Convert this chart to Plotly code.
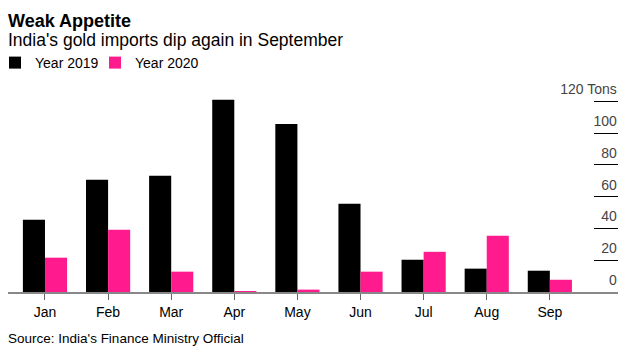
import plotly.graph_objects as go

months = ["Jan", "Feb", "Mar", "Apr", "May", "Jun", "Jul", "Aug", "Sep"]
year_2019 = [45.5, 70.6, 73.1, 121.0, 105.8, 55.5, 20.3, 14.7, 13.4]
year_2020 = [21.6, 39.2, 12.8, 0.4, 1.5, 12.8, 25.3, 35.4, 7.7]
y_tickvals = [0, 20, 40, 60, 80, 100, 120]
y_ticktext = ["0", "20", "40", "60", "80", "100", "120 Tons"]

FONT = "Liberation Sans, Arial, sans-serif"
W, H = 635, 357
L, R, T, B = 8, 17, 75, 65
PW, PH = W - L - R, H - T - B
Y_MAX = PH / 1.589


def px(x):
    return (x - L) / PW


def py(y):
    return (H - B - y) / PH


fig = go.Figure()
fig.add_trace(go.Bar(x=months, y=year_2019, name="Year 2019", legend="legend",
                     marker=dict(color="#000000", line=dict(width=0))))
fig.add_trace(go.Bar(x=months, y=year_2020, name="Year 2020", legend="legend2",
                     marker=dict(color="#ff1b8d", line=dict(width=0))))

legend_style = dict(orientation="h", xanchor="left", yanchor="top",
                    font=dict(size=14, family=FONT), itemwidth=30,
                    bgcolor="rgba(0,0,0,0)")

fig.update_layout(
    width=W, height=H,
    margin=dict(l=L, r=R, t=T, b=B, autoexpand=False),
    paper_bgcolor="white", plot_bgcolor="white",
    font=dict(family=FONT, color="#000000", size=13),
    barmode="group", bargap=0.3, bargroupgap=0,
    showlegend=True,
    legend=dict(x=px(-5), y=py(47), **legend_style),
    legend2=dict(x=px(95), y=py(47), **legend_style),
    xaxis=dict(type="category", range=[-0.586, 9.08], showgrid=False, automargin=False,
               showline=True, linecolor="#888888", linewidth=2,
               ticks="outside", ticklen=6, tickcolor="#666666", tickwidth=1,
               tickfont=dict(size=14, family=FONT), zeroline=False, fixedrange=True),
    yaxis=dict(side="right", range=[0, Y_MAX], tickvals=y_tickvals, ticktext=y_ticktext,
               showgrid=False, zeroline=False, showline=False, automargin=False,
               ticks="inside", ticklen=24, tickcolor="#000000", tickwidth=1,
               ticklabelposition="inside", ticklabelshift=-12, ticklabelstandoff=-23,
               tickfont=dict(size=14, family=FONT), fixedrange=True),
)

fig.add_annotation(text="<b>Weak Appetite</b>", xref="paper", yref="paper",
                   x=px(6), y=py(9.5), xanchor="left", yanchor="top",
                   showarrow=False, font=dict(size=18, family=FONT))
fig.add_annotation(text="India's gold imports dip again in September", xref="paper", yref="paper",
                   x=px(6), y=py(28), xanchor="left", yanchor="top",
                   showarrow=False, font=dict(size=17.5, family=FONT))
fig.add_annotation(text="Source: India's Finance Ministry Official", xref="paper", yref="paper",
                   x=px(6), y=py(329), xanchor="left", yanchor="top",
                   showarrow=False, font=dict(size=13.5, family=FONT))

fig.write_html("out.html", config={"displayModeBar": False},
               post_script="document.body.style.margin='0';")
